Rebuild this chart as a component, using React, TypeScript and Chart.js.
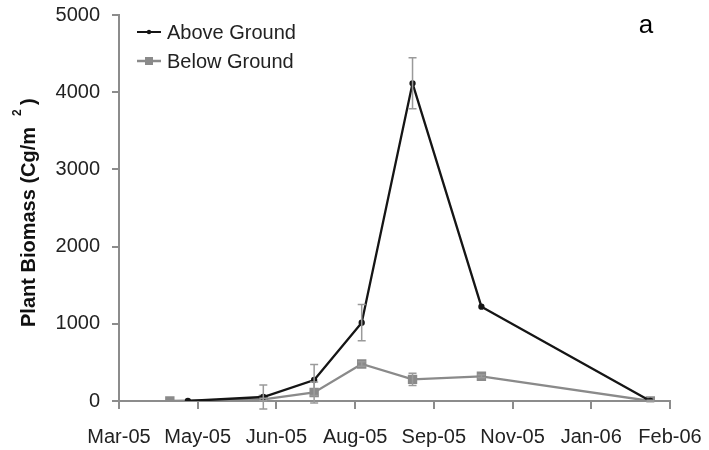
import React, { useEffect, useRef } from "react";
import { Chart, registerables } from "chart.js";

Chart.register(...registerables);

const xTickLabels = ["Mar-05", "May-05", "Jun-05", "Aug-05", "Sep-05", "Nov-05", "Jan-06", "Feb-06"];
const xTickDays = [0, 48, 96, 144, 192, 240, 288, 336];
const yTicks = [0, 1000, 2000, 3000, 4000, 5000];

const aboveDays = [42, 88, 119, 148, 179, 221, 324];
const aboveValues = [0, 52, 272, 1015, 4115, 1222, 0];
const aboveErrors = [0, 155, 200, 235, 330, 0, 0];

const belowDays = [31, 88, 119, 148, 179, 221, 324];
const belowValues = [0, 20, 110, 480, 280, 320, 0];
const belowErrors = [0, 15, 135, 30, 80, 20, 10];

const FONT = "'Liberation Sans', Arial, sans-serif";
const AXIS = "#8c8c8c";
const BLACK = "#151515";
const GRAY = "#8a8a8a";
const ERR = "#9a9a9a";

const decorPlugin = {
  id: "decor",
  afterDatasetsDraw(chart: any) {
    const ctx = chart.ctx;
    const xs = chart.scales.x;
    const ys = chart.scales.y;
    const area = chart.chartArea;

    // error bars
    const drawErr = (days: number[], vals: number[], errs: number[]) => {
      ctx.save();
      ctx.strokeStyle = ERR;
      ctx.lineWidth = 1.5;
      days.forEach((d, i) => {
        const e = errs[i];
        if (!e) return;
        const px = xs.getPixelForValue(d);
        const top = ys.getPixelForValue(vals[i] + e);
        const bot = ys.getPixelForValue(vals[i] - e);
        ctx.beginPath();
        ctx.moveTo(px, top);
        ctx.lineTo(px, bot);
        ctx.moveTo(px - 4, top);
        ctx.lineTo(px + 4, top);
        ctx.moveTo(px - 4, bot);
        ctx.lineTo(px + 4, bot);
        ctx.stroke();
      });
      ctx.restore();
    };
    drawErr(belowDays, belowValues, belowErrors);
    drawErr(aboveDays, aboveValues, aboveErrors);

    // legend
    ctx.save();
    const lx = area.left + 18;
    const rows = [
      { label: chart.data.datasets[0].label, color: BLACK, rect: false, y: area.top + 17 },
      { label: chart.data.datasets[1].label, color: GRAY, rect: true, y: area.top + 46 },
    ];
    rows.forEach((r) => {
      ctx.strokeStyle = r.color;
      ctx.fillStyle = r.color;
      ctx.lineWidth = r.rect ? 2.5 : 2;
      ctx.beginPath();
      ctx.moveTo(lx, r.y);
      ctx.lineTo(lx + 24, r.y);
      ctx.stroke();
      if (r.rect) {
        ctx.fillRect(lx + 8, r.y - 4, 8, 8);
      } else {
        ctx.beginPath();
        ctx.arc(lx + 12, r.y, 2.2, 0, Math.PI * 2);
        ctx.fill();
      }
      ctx.fillStyle = "#222";
      ctx.font = `20px ${FONT}`;
      ctx.textBaseline = "middle";
      ctx.textAlign = "left";
      ctx.fillText(r.label, lx + 30, r.y + 1);
    });

    // panel letter
    ctx.fillStyle = "#000";
    ctx.font = `26px ${FONT}`;
    ctx.textAlign = "center";
    ctx.textBaseline = "alphabetic";
    ctx.fillText("a", 646, 33);

    // y title
    ctx.translate(35, 327);
    ctx.rotate(-Math.PI / 2);
    ctx.fillStyle = "#111";
    ctx.textAlign = "left";
    ctx.textBaseline = "alphabetic";
    ctx.font = `bold 20px ${FONT}`;
    const main = "Plant Biomass (Cg/m";
    ctx.fillText(main, 0, 0);
    const w = ctx.measureText(main).width;
    ctx.font = `bold 12px ${FONT}`;
    ctx.fillText("2", w + 11, -14);
    ctx.font = `bold 20px ${FONT}`;
    ctx.fillText(")", w + 22, 0);
    ctx.restore();
  },
};

export default function App() {
  const ref = useRef<HTMLCanvasElement | null>(null);

  useEffect(() => {
    if (!ref.current) return;
    const chart = new Chart(ref.current, {
      type: "line",
      data: {
        datasets: [
          {
            label: "Above Ground",
            data: aboveDays.map((d, i) => ({ x: d, y: aboveValues[i] })),
            borderColor: BLACK,
            backgroundColor: BLACK,
            borderWidth: 2.3,
            pointRadius: 2,
            pointStyle: "circle",
            tension: 0,
            order: 1,
          },
          {
            label: "Below Ground",
            data: belowDays.map((d, i) => ({ x: d, y: belowValues[i] })),
            borderColor: GRAY,
            backgroundColor: GRAY,
            borderWidth: 2.3,
            pointRadius: 5,
            pointStyle: "rect",
            tension: 0,
            order: 2,
          },
        ],
      },
      options: {
        animation: false,
        responsive: false,
        maintainAspectRatio: false,
        layout: { padding: { top: 15, right: 39, left: 0, bottom: 0 } },
        plugins: { legend: { display: false }, tooltip: { enabled: false } },
        scales: {
          x: {
            type: "linear",
            min: xTickDays[0],
            max: xTickDays[xTickDays.length - 1],
            afterBuildTicks: (s: any) => {
              s.ticks = xTickDays.map((v) => ({ value: v }));
            },
            afterFit: (s: any) => {
              s.height = 49;
              s.paddingLeft = 0;
              s.paddingRight = 0;
            },
            ticks: {
              callback: (v: any) => xTickLabels[xTickDays.indexOf(Number(v))],
              font: { family: FONT, size: 20 },
              color: "#222",
              padding: 16,
              maxRotation: 0,
              autoSkip: false,
            },
            grid: { drawOnChartArea: false, tickLength: 8, color: AXIS, tickColor: AXIS, lineWidth: 2 },
            border: { color: AXIS, width: 2 },
          },
          y: {
            type: "linear",
            min: yTicks[0],
            max: yTicks[yTicks.length - 1],
            afterBuildTicks: (s: any) => {
              s.ticks = yTicks.map((v) => ({ value: v }));
            },
            afterFit: (s: any) => {
              s.width = 119;
              s.paddingTop = 0;
              s.paddingBottom = 0;
            },
            ticks: {
              callback: (v: any) => String(v),
              font: { family: FONT, size: 20 },
              color: "#222",
              padding: 12,
            },
            grid: { drawOnChartArea: false, tickLength: 7, color: AXIS, tickColor: AXIS, lineWidth: 2 },
            border: { color: AXIS, width: 2 },
          },
        },
      },
      plugins: [decorPlugin],
    } as any);
    return () => chart.destroy();
  }, []);

  return (
    <div style={{ position: "fixed", left: 0, top: 0, width: 709, height: 450, background: "#fff" }}>
      <canvas ref={ref} width={709} height={450} style={{ width: 709, height: 450, display: "block" }} />
    </div>
  );
}
